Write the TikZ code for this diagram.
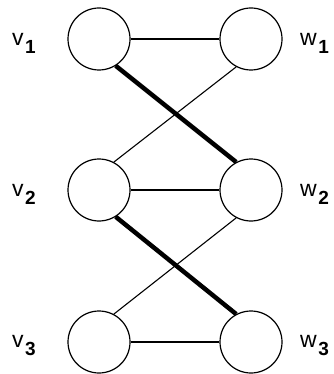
\documentclass[tikz,border=0pt]{standalone}
\usepackage{fontspec}
\setmainfont{Liberation Sans}
\newcommand{\vsub}[2]{{\fontsize{23}{24}\selectfont #1}\hspace{1.5pt}\raisebox{-8pt}{\fontsize{19}{20}\selectfont\textbf{#2}}}
\begin{document}
\begin{tikzpicture}[x=1pt,y=-1pt,
  vert/.style={circle,draw,line width=1.2pt,minimum size=62pt,inner sep=0pt},
  thin/.style={line width=1.1pt},
  thick/.style={line width=4.5pt},
  lab/.style={inner sep=0pt}]
\useasboundingbox (0,0) rectangle (333,374);
\node[vert] (v1) at (99,39) {};
\node[vert] (w1) at (251,39) {};
\node[vert] (v2) at (99,190) {};
\node[vert] (w2) at (251,190) {};
\node[vert] (v3) at (99,342) {};
\node[vert] (w3) at (251,342) {};
\node[lab,anchor=west] (lv1) at (12,43) {\vsub{v}{1}};
\node[lab,anchor=west] (lv2) at (12,194) {\vsub{v}{2}};
\node[lab,anchor=west] (lv3) at (12,346) {\vsub{v}{3}};
\node[lab,anchor=west] (lw1) at (300,43) {\vsub{w}{1}};
\node[lab,anchor=west] (lw2) at (300,194) {\vsub{w}{2}};
\node[lab,anchor=west] (lw3) at (300,346) {\vsub{w}{3}};
\draw[thin] (v1) -- (w1);
\draw[thin] (v2) -- (w2);
\draw[thin] (v3) -- (w3);
\draw[thin] (v2.62) -- (w1.-118);
\draw[thin] (v3.62) -- (w2.-118);
\draw[thick] (v1.-58) -- (w2.118);
\draw[thick] (v2.-58) -- (w3.118);
\end{tikzpicture}
\end{document}
